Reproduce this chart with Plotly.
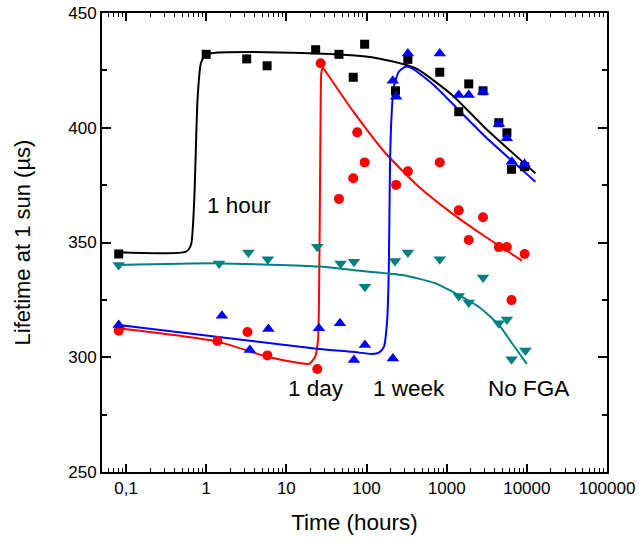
import math
import plotly.graph_objects as go

# Measured lifetime (µs) vs time (hours) for each FGA duration
sq_t = [0.081, 1.0, 3.2, 5.75, 23.2, 45.3, 68.3, 94.7, 230, 328, 820, 1414, 1885, 2840, 4470, 5640, 6440, 9380]
sq_v = [345.0, 432.0, 430.0, 427.0, 434.0, 432.0, 422.0, 436.4, 416.1, 429.8, 424.2, 407.0, 419.1, 416.1, 402.2, 397.8, 381.9, 383.0]

ci_t = [0.081, 1.38, 3.27, 5.8, 24.3, 26.8, 45.3, 68.3, 76.6, 94.7, 234, 328, 820, 1414, 1885, 2840, 4470, 5640, 6440, 9380]
ci_v = [311.6, 307.1, 311.0, 300.8, 294.9, 428.1, 369.0, 378.0, 398.0, 384.9, 375.1, 381.0, 384.9, 364.0, 351.1, 361.0, 348.0, 348.0, 324.9, 345.0]

tu_t = [0.081, 1.57, 3.5, 5.97, 25.5, 46.6, 69.7, 95.5, 213, 213, 234, 328, 820, 1414, 1885, 2840, 4470, 5640, 6500, 9380]
tu_v = [314.1, 318.1, 303.2, 312.3, 312.6, 314.8, 298.8, 305.3, 299.5, 420.5, 413.5, 432.4, 432.4, 414.3, 414.3, 415.7, 401.6, 395.4, 385.2, 384.2]

td_t = [0.081, 1.45, 3.36, 5.87, 24.3, 47.6, 69.7, 95.5, 226, 328, 820, 1414, 1885, 2840, 4470, 5640, 6440, 9600]
td_v = [340.2, 340.9, 345.6, 342.7, 348.2, 340.9, 341.6, 330.7, 341.9, 345.6, 342.7, 326.7, 323.9, 334.8, 314.8, 316.5, 299.1, 302.9]

# Fitted curves
fit_hour_t = [0.081, 0.559, 0.645, 0.709, 0.779, 0.859, 1.0, 23.2, 97.6, 173, 337, 448, 1167, 3040, 12760]
fit_hour_v = [345.7, 346.0, 348.9, 368.5, 412.1, 428.1, 432.0, 432.4, 431.0, 429.5, 427.0, 425.2, 414.3, 399.8, 380.2]

fit_day_t = [0.081, 1.38, 5.8, 14.4, 19.2, 22.8, 24.8, 25.9, 26.7, 27.4, 28.6, 31.2, 66.4, 173, 450, 1167, 3040, 8700]
fit_day_v = [312.6, 306.8, 300.2, 297.5, 297.1, 300.1, 307.5, 346.7, 403.4, 424.3, 426.0, 424.3, 407.7, 388.9, 374.3, 362.7, 352.5, 342.1]

fit_week_t = [0.081, 25.5, 66.4, 118, 143, 165, 181, 190, 196, 205, 219, 253, 307, 371, 725, 1414, 3040, 12760]
fit_week_v = [314.1, 303.6, 302.4, 301.4, 302.0, 304.6, 316.2, 339.5, 383.0, 404.8, 417.9, 424.4, 426.6, 425.9, 417.9, 407.7, 396.1, 376.5]

fit_nofga_t = [0.081, 1.45, 25.5, 66.4, 279, 725, 1414, 2510, 4470, 6530, 10000]
fit_nofga_v = [340.2, 340.9, 339.5, 338.0, 335.8, 332.2, 327.1, 322.0, 314.1, 306.1, 297.1]

x_ticks = [0.1, 1, 10, 100, 1000, 10000, 100000]
x_tick_text = ["0,1", "1", "10", "100", "1000", "10000", "100000"]
y_ticks = [250, 300, 350, 400, 450]

labels = ["1 hour", "1 day", "1 week", "No FGA"]
label_t = [2.6, 23.4, 337, 10500]
label_v = [366.3, 286.6, 286.6, 286.6]

BLACK, RED, BLUE, TEAL = "#000000", "#ff0000", "#0000ff", "#008080"

fig = go.Figure()

for t, v, c in [(fit_hour_t, fit_hour_v, BLACK), (fit_day_t, fit_day_v, RED),
                (fit_week_t, fit_week_v, BLUE), (fit_nofga_t, fit_nofga_v, TEAL)]:
    fig.add_trace(go.Scatter(x=t, y=v, mode="lines",
                             line=dict(color=c, width=2, shape="spline", smoothing=0.6),
                             showlegend=False, hoverinfo="skip"))

for t, v, c, sym, sz in [(sq_t, sq_v, BLACK, "square", 9), (ci_t, ci_v, RED, "circle", 10),
                         (tu_t, tu_v, BLUE, "triangle-up", 11), (td_t, td_v, TEAL, "triangle-down", 11)]:
    fig.add_trace(go.Scatter(x=t, y=v, mode="markers",
                             marker=dict(color=c, symbol=sym, size=sz, line=dict(width=0)),
                             showlegend=False))

# annotation x on a log axis is given as log10 of the data value
for txt, t, v in zip(labels, label_t, label_v):
    fig.add_annotation(x=math.log10(t), y=v, xref="x", yref="y", text=txt, showarrow=False,
                       font=dict(size=22.5, color="black"))

# minor tick positions: 2..9 within each decade, 25-unit steps on y
minor_x = [m * 10 ** e for e in range(-2, 5) for m in range(2, 10) if 0.05 <= m * 10 ** e <= 100000]

fig.update_xaxes(type="log", range=[-1.3, 5.0], automargin=False,
                 tickvals=x_ticks, ticktext=x_tick_text,
                 ticks="inside", ticklen=8, tickwidth=1.5, tickcolor="black",
                 minor=dict(tickvals=minor_x, ticks="inside", ticklen=4, tickwidth=1.2,
                            tickcolor="black", showgrid=False),
                 showline=True, linecolor="black", linewidth=2, mirror="allticks",
                 showgrid=False, zeroline=False,
                 tickfont=dict(size=17, color="black"),
                 title=dict(text="Time (hours)", font=dict(size=22.5, color="black"), standoff=17))

fig.update_yaxes(range=[250, 450], tickvals=y_ticks, automargin=False,
                 ticks="inside", ticklen=9, tickwidth=1.5, tickcolor="black",
                 minor=dict(dtick=25, ticks="inside", ticklen=5, tickwidth=1.5,
                            tickcolor="black", showgrid=False),
                 showline=True, linecolor="black", linewidth=2, mirror="allticks",
                 showgrid=False, zeroline=False,
                 tickfont=dict(size=17, color="black"),
                 title=dict(text="Lifetime at 1 sun (µs)", font=dict(size=22, color="black"), standoff=32))

fig.update_layout(width=639, height=541,
                  margin=dict(l=102, r=32, t=13, b=69),
                  plot_bgcolor="white", paper_bgcolor="white",
                  font=dict(family="Liberation Sans, Arial, sans-serif", color="black"))

fig.write_html("out.html")
